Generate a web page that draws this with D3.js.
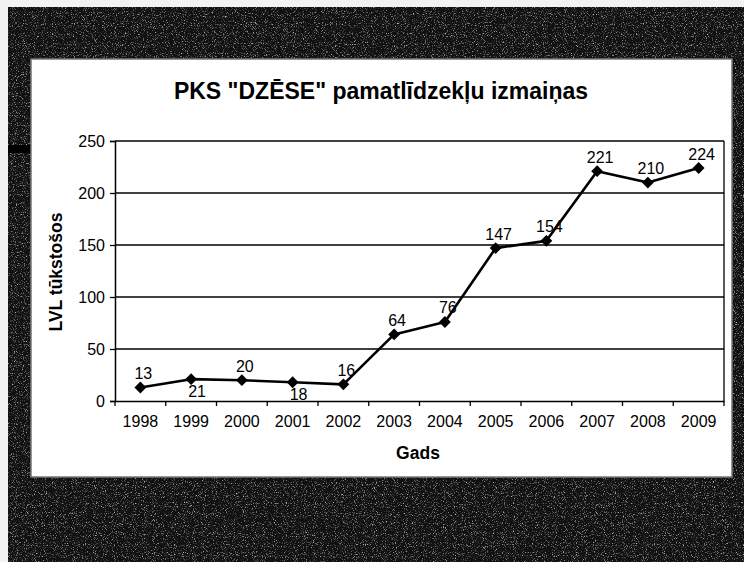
<!DOCTYPE html>
<html>
<head>
<meta charset="utf-8">
<script src="https://cdn.jsdelivr.net/npm/d3@7/dist/d3.min.js"></script>
<style>
  html, body { margin: 0; padding: 0; background: #fff; }
  svg { display: block; font-family: "Liberation Sans", Arial, sans-serif; }
</style>
</head>
<body>
<svg id="chart" width="744" height="562"></svg>
<script>
// ---- data ----
const years = ["1998","1999","2000","2001","2002","2003","2004","2005","2006","2007","2008","2009"];
const values = [13, 21, 20, 18, 16, 64, 76, 147, 154, 221, 210, 224];
const yTicks = [0, 50, 100, 150, 200, 250];
const titleText = 'PKS "DZĒSE" pamatlīdzekļu izmaiņas';
const yTitle = "LVL tūkstošos";
const xTitle = "Gads";

const svg = d3.select("#chart");
const W = 744, H = 562;
const FONT = "Liberation Sans, Arial, sans-serif";

// ---- scanned background ----
const defs = svg.append("defs");
const f = defs.append("filter").attr("id", "noise").attr("x", 0).attr("y", 0).attr("width", "100%").attr("height", "100%");
f.append("feTurbulence").attr("type", "fractalNoise").attr("baseFrequency", 0.9).attr("numOctaves", 2).attr("seed", 7);
f.append("feColorMatrix").attr("type", "matrix")
  .attr("values", "0 0 0 0 1  0 0 0 0 1  0 0 0 0 1  3.4 0 0 0 -1.85");

svg.append("rect").attr("width", W).attr("height", H).attr("fill", "#111");
svg.append("rect").attr("width", W).attr("height", H).attr("filter", "url(#noise)").attr("opacity", 0.7);
// lighter strips at the very edges of the scan
svg.append("rect").attr("x", 0).attr("y", 0).attr("width", 8).attr("height", H).attr("fill", "#f2f2f2");
svg.append("rect").attr("x", 0).attr("y", 0).attr("width", W).attr("height", 7).attr("fill", "#f2f2f2");
svg.append("rect").attr("x", 8).attr("y", 145).attr("width", 23).attr("height", 8).attr("fill", "#000");

// ---- white chart panel ----
svg.append("rect").attr("x", 31).attr("y", 59).attr("width", 701).attr("height", 418)
  .attr("fill", "#fff").attr("stroke", "#777").attr("stroke-width", 1.5);

// ---- scales ----
const plot = { left: 115, right: 724, top: 141, bottom: 401 };
const x = d3.scaleBand().domain(years).range([plot.left, plot.right]);
const y = d3.scaleLinear().domain([0, 250]).range([plot.bottom, plot.top]);

// gridlines
svg.append("g").selectAll("line").data(yTicks.filter(d => d > 0)).join("line")
  .attr("x1", plot.left).attr("x2", plot.right)
  .attr("y1", d => y(d)).attr("y2", d => y(d))
  .attr("stroke", "#000").attr("stroke-width", 1.3);
// right border of plot area
svg.append("line").attr("x1", plot.right).attr("x2", plot.right)
  .attr("y1", plot.top).attr("y2", plot.bottom).attr("stroke", "#000").attr("stroke-width", 1.3);

// y axis
const yAxis = svg.append("g").attr("transform", `translate(${plot.left},0)`)
  .call(d3.axisLeft(y).tickValues(yTicks).tickSize(5).tickPadding(5));
yAxis.select(".domain").attr("stroke", "#000").attr("stroke-width", 1.5);
yAxis.selectAll(".tick line").attr("stroke", "#000").attr("stroke-width", 1.3);
yAxis.selectAll("text").attr("font-size", 16).attr("fill", "#000").attr("font-family", FONT);

// x axis (labels)
const xAxis = svg.append("g").attr("transform", `translate(0,${plot.bottom})`)
  .call(d3.axisBottom(x).tickSize(0).tickPadding(15));
xAxis.select(".domain").attr("stroke", "#000").attr("stroke-width", 1.5);
xAxis.selectAll("text").attr("font-size", 16).attr("fill", "#000").attr("font-family", FONT);
// x tick marks at category boundaries
const bounds = years.map(d => x(d)).concat([plot.right]);
svg.append("g").selectAll("line").data(bounds).join("line")
  .attr("x1", d => d).attr("x2", d => d)
  .attr("y1", plot.bottom).attr("y2", plot.bottom + 5)
  .attr("stroke", "#000").attr("stroke-width", 1.3);

// ---- series ----
const pts = years.map((yr, i) => ({ yr, v: values[i], cx: x(yr) + x.bandwidth() / 2, cy: y(values[i]) }));
svg.append("path").datum(pts)
  .attr("d", d3.line().x(d => d.cx).y(d => d.cy))
  .attr("fill", "none").attr("stroke", "#000").attr("stroke-width", 2.6).attr("stroke-linejoin", "round");

svg.append("g").selectAll("path").data(pts).join("path")
  .attr("d", d3.symbol(d3.symbolSquare, 70))
  .attr("transform", d => `translate(${d.cx},${d.cy}) rotate(45)`)
  .attr("fill", "#000");

// data labels (1999 and 2001 sit below their points)
const below = new Set(["1999", "2001"]);
svg.append("g").selectAll("text").data(pts).join("text")
  .attr("x", d => d.cx + (below.has(d.yr) ? 6 : 3))
  .attr("y", d => below.has(d.yr) ? d.cy + 18 : d.cy - 8.5)
  .attr("text-anchor", "middle").attr("font-size", 16).attr("fill", "#000").attr("font-family", FONT)
  .text(d => d.v);

// ---- titles ----
svg.append("text").attr("x", 381).attr("y", 99).attr("text-anchor", "middle")
  .attr("font-size", 23).attr("font-weight", "bold").attr("fill", "#000").text(titleText);
svg.append("text").attr("transform", "translate(62,272) rotate(-90)").attr("text-anchor", "middle")
  .attr("font-size", 17.5).attr("font-weight", "bold").attr("fill", "#000").text(yTitle);
svg.append("text").attr("x", 418).attr("y", 459).attr("text-anchor", "middle")
  .attr("font-size", 17.5).attr("font-weight", "bold").attr("fill", "#000").text(xTitle);
</script>
</body>
</html>
